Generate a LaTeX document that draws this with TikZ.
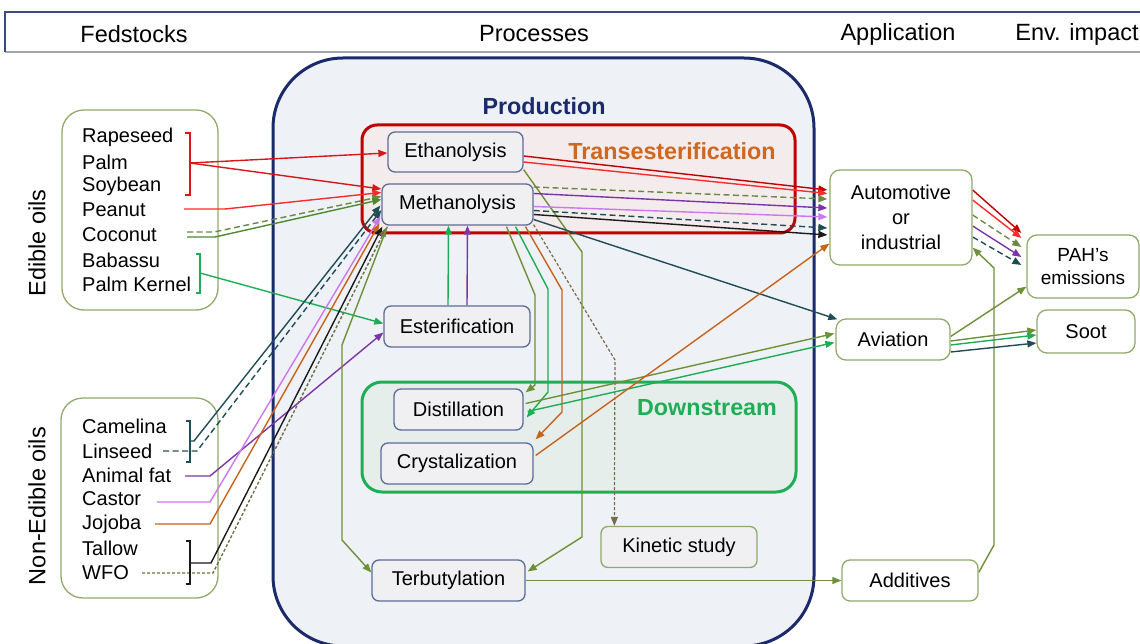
\documentclass[tikz,border=0pt]{standalone}
\usepackage{fontspec}
\setmainfont{Liberation Sans}
\usetikzlibrary{arrows.meta,calc}

% palette
\definecolor{navy}{HTML}{1B2A6B}
\definecolor{prodfill}{HTML}{EEF1F6}
\definecolor{trred}{HTML}{C00000}
\definecolor{trfill}{HTML}{F3EBEC}
\definecolor{trorange}{HTML}{D0671E}
\definecolor{dsgreen}{HTML}{1FAE55}
\definecolor{dsfill}{HTML}{E6EEEC}
\definecolor{procborder}{HTML}{5D6B97}
\definecolor{procfill}{HTML}{F0F0F3}
\definecolor{olivebd}{HTML}{8FAA6A}
\definecolor{hdrline}{HTML}{3A4A80}
\definecolor{hdrlow}{HTML}{A0A4B4}
\definecolor{cRed}{HTML}{D8161B}
\definecolor{cRedB}{HTML}{FF2A2A}
\definecolor{cOlive}{HTML}{4F8A2E}
\definecolor{cOliveD}{HTML}{6A8A44}
\definecolor{cGreen}{HTML}{1DAE55}
\definecolor{cTeal}{HTML}{1F4D56}
\definecolor{cPurple}{HTML}{7B35A8}
\definecolor{cViolet}{HTML}{CC77F2}
\definecolor{cOrange}{HTML}{C9631C}
\definecolor{cBlack}{HTML}{1A1A1A}
\definecolor{cWfo}{HTML}{6F6F45}
\definecolor{cLine}{HTML}{6E9038}
\definecolor{cKin}{HTML}{7A6A45}

\pgfdeclarelayer{back}
\pgfdeclarelayer{mid}
\pgfsetlayers{back,mid,main}

\tikzset{
  txt/.style={font=\fontsize{20}{24}\selectfont},
  hdr/.style={font=\fontsize{23.5}{28}\selectfont},
  ttl/.style={font=\fontsize{23.3}{28}\selectfont\bfseries},
  proc/.style={draw=procborder, fill=procfill, rounded corners=7pt, line width=1.3pt,
    inner sep=0pt, txt},
  kinbox/.style={draw=olivebd, fill=procfill, rounded corners=7pt, line width=1.3pt,
    inner sep=0pt, txt},
  appl/.style={draw=olivebd, fill=white, rounded corners=10pt, line width=1.3pt,
    inner sep=0pt, align=center, txt},
  feed/.style={anchor=west, inner sep=0pt, txt},
  flow/.style={line width=1.4pt, -{Triangle[length=9pt,width=7pt]}},
  brk/.style={line width=1.3pt},
  dsh/.style={dash pattern=on 6pt off 3.5pt},
  fdsh/.style={dash pattern=on 3pt off 2pt},
}

\begin{document}
\begin{tikzpicture}[x=1pt,y=-1pt]
\useasboundingbox (0,0) rectangle (1140,644);

% ---------- header band ----------
\fill[white] (5,12) rectangle (1150,52);
\draw[hdrlow, line width=1.6pt] (5,52) -- (1150,52);
\draw[hdrline, line width=1.2pt] (1150,12) -- (5,12) -- (5,52);
\node[hdr] (hFeed) at (134,34) {Fedstocks};
\node[hdr] (hProc) at (534,34) {Processes};
\node[hdr] (hAppl) at (898,34) {Application};
\node[hdr] (hEnv)  at (1077,34) {Env. impact};

% ---------- group frames ----------
\begin{pgfonlayer}{back}
  \draw[navy, fill=prodfill, line width=3pt, rounded corners=70pt]
    (273,58) rectangle (814,646);
  \draw[trred, fill=trfill, line width=3pt, rounded corners=15pt]
    (362,125) rectangle (795,233);
  \draw[dsgreen, fill=dsfill, line width=3pt, rounded corners=20pt]
    (362,382) rectangle (796,492);
  \draw[olivebd, line width=1.3pt, rounded corners=22pt] (62,110) rectangle (218,310);
  \draw[olivebd, line width=1.3pt, rounded corners=22pt] (61,398) rectangle (218,598);
\end{pgfonlayer}

\node[ttl, text=navy]     (lProd) at (544,106) {Production};
\node[ttl, text=trorange] (lTran) at (672,151) {Transesterification};
\node[ttl, text=dsgreen]  (lDown) at (707,408) {Downstream};

\node[hdr, rotate=90] (lEdi) at (37,243) {Edible oils};
\node[hdr, rotate=90] (lNon) at (37,506) {Non-Edible oils};

% ---------- feedstocks ----------
\node[feed] (fRap) at (82,137) {Rapeseed};
\node[feed] (fPal) at (82,162) {Palm};
\node[feed] (fSoy) at (82,186) {Soybean};
\node[feed] (fPea) at (82,210) {Peanut};
\node[feed] (fCoc) at (82,235) {Coconut};
\node[feed] (fBab) at (82,260) {Babassu};
\node[feed] (fPK)  at (82,284) {Palm Kernel};
\node[feed] (fCam) at (82,426) {Camelina};
\node[feed] (fLin) at (82,451) {Linseed};
\node[feed] (fAni) at (82,475) {Animal fat};
\node[feed] (fCas) at (82,499) {Castor};
\node[feed] (fJoj) at (82,524) {Jojoba};
\node[feed] (fTal) at (82,548) {Tallow};
\node[feed] (fWfo) at (82,573) {WFO};

% ---------- process nodes ----------
\node[proc, minimum width=135pt, minimum height=40pt] (eth)   at (455.5,152)   {Ethanolysis};
\node[proc, minimum width=151pt, minimum height=41pt] (meth)  at (457.5,204.5) {Methanolysis};
\node[proc, minimum width=146pt, minimum height=41pt] (est)   at (457,326.5)   {Esterification};
\node[proc, minimum width=129pt, minimum height=41pt] (dist)  at (458.5,409.5) {Distillation};
\node[proc, minimum width=152pt, minimum height=41pt] (cryst) at (457,463.5)   {Crystalization};
\node[proc, minimum width=153pt, minimum height=41pt] (terb)  at (448.5,580.5) {Terbutylation};
\node[kinbox, minimum width=156pt, minimum height=41pt] (kin) at (679,547)     {Kinetic study};

% ---------- application / impact nodes ----------
\node[appl, minimum width=142pt, minimum height=95pt, font=\fontsize{20}{25}\selectfont]
  (auto) at (901,217.5) {Automotive\\or\\industrial};
\node[appl, minimum width=114pt, minimum height=41pt] (avi) at (893,339.5) {Aviation};
\node[appl, minimum width=136pt, minimum height=41pt, rounded corners=8pt] (add) at (910,580.5) {Additives};
\node[appl, minimum width=112pt, minimum height=63pt, font=\fontsize{19}{23}\selectfont]
  (pah) at (1083,266.5) {PAH's\\emissions};
\node[appl, minimum width=98pt, minimum height=43pt] (soot) at (1086,331.5) {Soot};

% ---------- brackets grouping feedstocks ----------
\draw[brk, cRed]   (185,133) -- (190,133) -- (190,195) -- (185,195);
\draw[brk, cGreen] (196,254) -- (200,254) -- (200,293) -- (196,293);
\draw[brk, cTeal]  (186,421) -- (190,421) -- (190,462) -- (186,462);
\draw[brk, cBlack] (186,541) -- (190,541) -- (190,584) -- (186,584);
\coordinate (gRed)  at (190,163);
\coordinate (gGrn)  at (200,273);
\coordinate (gTeal) at (190,441);
\coordinate (gBlk)  at (190,563);
\coordinate (sPea) at (184,209);
\coordinate (sCc1) at (187,232);
\coordinate (sCc2) at (187,237);
\coordinate (sLin) at (163,451);
\coordinate (sAni) at (185,476);
\coordinate (sCas) at (157,502);
\coordinate (sJoj) at (155,524);
\coordinate (sWfo) at (142,573);

\begin{pgfonlayer}{mid}
% feedstocks -> processes
\draw[flow, cRed]  (gRed) -- ($(eth.west)+(0,1)$);
\draw[flow, cRed]  (gRed) -- ($(meth.west)+(0,-15.5)$);
\draw[flow, cRedB] (sPea) -- ++(41,0) -- ($(meth.west)+(0,-12)$);
\draw[flow, cOliveD, dsh] (sCc1) -- ++(27,0) -- ($(meth.west)+(0,-8)$);
\draw[flow, cOlive] (sCc2) -- ++(28,0) -- ($(meth.west)+(0,-5)$);
\draw[flow, cGreen] (gGrn) -- ($(est.west)+(0,-3)$);
\draw[flow, cTeal] (gTeal) -- ++(4,0) -- ($(meth.west)+(-1,1)$);
\draw[flow, cTeal, dsh] (sLin) -- ++(34,0) -- ($(meth.west)+(0,5.5)$);
\draw[flow, cPurple] (sAni) -- ++(25,0) -- ($(est.west)+(0,6)$);
\draw[flow, cViolet] (sCas) -- ++(53,0) -- ($(meth.west)+(-1,12)$);
\draw[flow, cOrange] (sJoj) -- ++(55,0) -- ($(meth.south west)+(-2,-2)$);
\draw[flow, cBlack] (gBlk) -- ++(21,0) -- ($(meth.south west)+(1,1)$);
\draw[flow, cWfo, fdsh] (sWfo) -- ++(71,0) -- ($(meth.south west)+(5,2)$);

% inside production
\draw[flow, cLine] ($(meth.south west)+(6,1)$) -- (342,345) -- (342,540) -- ($(terb.west)+(0,-8)$);
\draw[flow, cGreen]  ($(est.north)+(-9,0)$) -- ($(meth.south)+(-9,0)$);
\draw[flow, cPurple] ($(est.north)+(10,0)$) -- ($(meth.south)+(10,0)$);
\draw[flow, cLine]   ($(meth.south)+(49,1)$) -- (535,295) -- (535,385) -- ($(dist.north east)+(2,4)$);
\draw[flow, cGreen]  ($(meth.south)+(58,1)$) -- (548,289) -- (548,392) -- ($(dist.east)+(3,8)$);
\draw[flow, cOrange] ($(meth.south)+(68,1)$) -- (562,290) -- (562,412) -- ($(cryst.north east)+(2,-3)$);
\draw[flow, cKin, fdsh, line width=1.2pt] ($(meth.south east)+(0,-1)$) -- (615,360) -- ($(kin.north west)+(14,0)$);
\draw[flow, cLine]   ($(eth.south east)+(0,-3)$) -- (582,252) -- (582,537) -- ($(terb.east)+(2,-9)$);

% processes -> applications
\draw[flow, trred] ($(eth.east)+(0,4)$)  -- ($(auto.west)+(-2,-27.5)$);
\draw[flow, cRedB] ($(eth.east)+(0,10)$) -- ($(auto.west)+(-2,-24)$);
\draw[flow, cOliveD, dsh] ($(meth.east)+(0,-17.5)$) -- ($(auto.west)+(-2,-18.5)$);
\draw[flow, cPurple] ($(meth.east)+(0,-11)$) -- ($(auto.west)+(-2,-9.5)$);
\draw[flow, cViolet] ($(meth.east)+(0,2)$)   -- ($(auto.west)+(-2,-0.5)$);
\draw[flow, cTeal, dsh] ($(meth.east)+(0,6)$) -- ($(auto.west)+(-2,10.5)$);
\draw[flow, cBlack]  ($(meth.east)+(0,10)$)  -- ($(auto.west)+(-2,17.5)$);
\draw[flow, cTeal]   ($(meth.east)+(0,15)$)  -- ($(avi.north west)+(2,1)$);
\draw[flow, cLine]   ($(dist.east)+(2,-6)$)  -- ($(avi.west)+(-1,-6)$);
\draw[flow, cGreen]  ($(dist.east)+(4,2)$)   -- ($(avi.west)+(-1,3)$);
\draw[flow, cOrange] ($(cryst.east)+(2,-8)$) -- ($(auto.south west)+(0,-22)$);
\draw[flow, cLine]   (terb.east) -- (add.west);

% applications -> impacts
\draw[flow, trred] ($(auto.east)+(0,-27.5)$) -- ($(pah.west)+(-5,-33.5)$);
\draw[flow, cRedB] ($(auto.east)+(0,-17.5)$) -- ($(pah.west)+(-5,-28.5)$);
\draw[flow, cOliveD, dsh] ($(auto.east)+(0,-2.5)$) -- ($(pah.west)+(-5,-19.5)$);
\draw[flow, cPurple] ($(auto.east)+(0,8.5)$) -- ($(pah.west)+(-5,-9.5)$);
\draw[flow, cTeal, dsh] ($(auto.east)+(0,19.5)$) -- ($(pah.west)+(-5,-1.5)$);
\draw[flow, cLine] ($(add.east)+(0,-8)$) -- (994,545) -- (994,268) -- ($(auto.south east)+(0,-18)$);
\draw[flow, cLine]  ($(avi.east)+(0,-3)$) -- ($(pah.south west)+(0,-12)$);
\draw[flow, cLine]  ($(avi.east)+(0,1.5)$) -- ($(soot.west)+(0,-1.5)$);
\draw[flow, cGreen] ($(avi.east)+(0,5.5)$) -- ($(soot.west)+(0,3.5)$);
\draw[flow, cTeal]  ($(avi.east)+(0,12.5)$) -- ($(soot.west)+(0,11.5)$);
\end{pgfonlayer}

\end{tikzpicture}
\end{document}
